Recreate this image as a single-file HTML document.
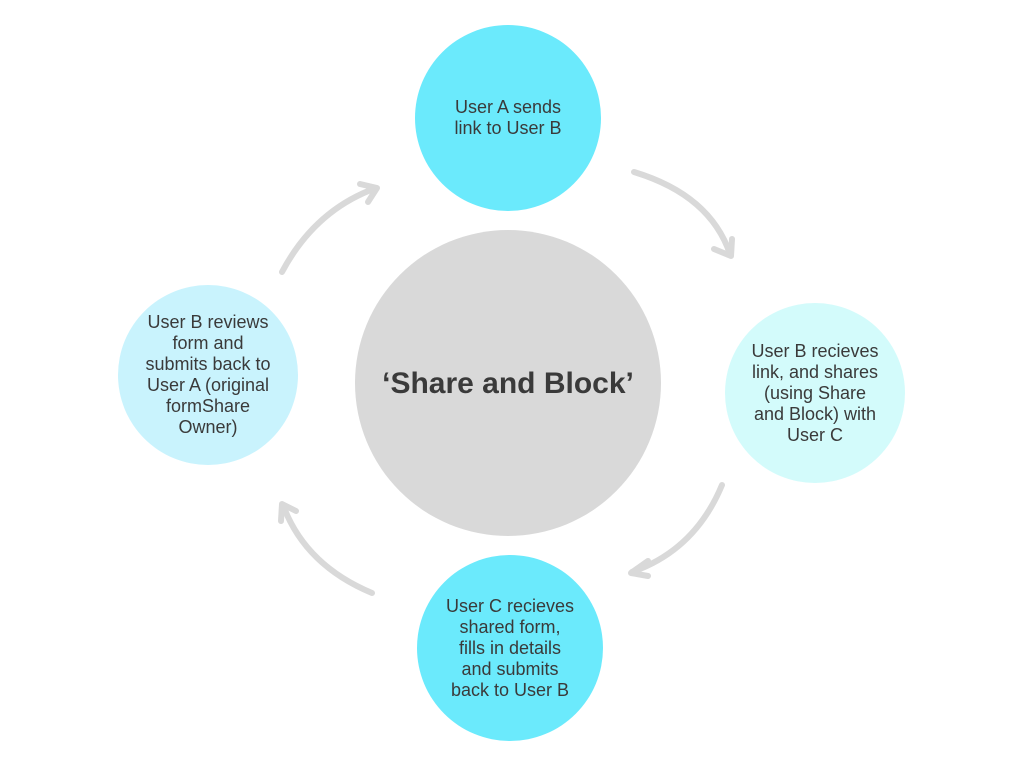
<!DOCTYPE html>
<html><head><style>
body{margin:0;width:1024px;height:768px;background:#fff;overflow:hidden;font-family:"Liberation Sans",sans-serif}
.c{position:absolute;border-radius:50%;display:flex;align-items:center;justify-content:center;text-align:center;color:#3a3a3a;font-size:18px;line-height:21px}
</style></head><body>
<svg width="1024" height="768" style="position:absolute;left:0;top:0">
<g fill="none" stroke="#d9d9d9" stroke-width="6" stroke-linecap="round" stroke-linejoin="round">
<path d="M282 272 Q315 210 376 188"/><path d="M360 184 L377 188 L368 202"/>
<path d="M634 172 Q710 195 730 254"/><path d="M714 249 L731 256 L732 239"/>
<path d="M722 485 Q695 550 632 572"/><path d="M648 561 L631 573 L648 576"/>
<path d="M372 593 Q305 565 283 505"/><path d="M281 521 L282 504 L296 511"/>
</g></svg>
<div class="c" style="left:415px;top:25px;width:186px;height:186px;background:#6beafc">User A sends<br>link to User B</div>
<div class="c" style="left:355px;top:230px;width:306px;height:306px;background:#d9d9d9;font-size:30px;font-weight:bold;color:#3a3a3a">‘Share and Block’</div>
<div class="c" style="left:725px;top:303px;width:180px;height:180px;background:#d3fbfb">User B recieves<br>link, and shares<br>(using Share<br>and Block) with<br>User C</div>
<div class="c" style="left:417px;top:555px;width:186px;height:186px;background:#6beafc">User C recieves<br>shared form,<br>fills in details<br>and submits<br>back to User B</div>
<div class="c" style="left:118px;top:285px;width:180px;height:180px;background:#c9f3fd">User B reviews<br>form and<br>submits back to<br>User A (original<br>formShare<br>Owner)</div>
</body></html>
